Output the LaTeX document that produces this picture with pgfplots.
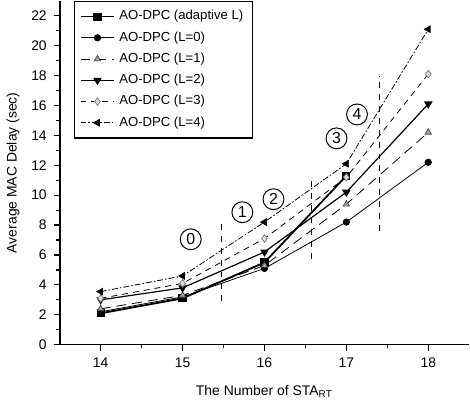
\documentclass[border=0pt]{standalone}
\usepackage{fontspec}
\setmainfont{Liberation Sans}
\usepackage{pgfplots}
\pgfplotsset{compat=1.18}
\begin{document}
\begin{tikzpicture}
\begin{axis}[
  scale only axis, width=206pt, height=173pt,
  xmin=13.5, xmax=18.5, ymin=0, ymax=23,
  axis x line=bottom, axis y line=left, axis line style={-, line width=0.8pt},
  xtick={14,15,16,17,18}, ytick={0,2,...,22}, minor tick num=1,
  tick align=outside, major tick length=3pt, minor tick length=1.8pt,
  tick style={black, line width=0.6pt},
  font=\fontsize{7}{8}\selectfont,
  /pgf/number format/assume math mode=true,
  xlabel={The Number of STA$_{\mathrm{RT}}$},
  ylabel={Average MAC Delay (sec)},
  xlabel style={yshift=-2pt},
  ylabel style={yshift=-1pt},
  legend style={at={(axis description cs:0.035,1.0)}, anchor=north west,
    draw=black, line width=0.6pt, font=\fontsize{6.6}{7.5}\selectfont,
    row sep=0.4pt, inner sep=2.5pt},
  legend cell align=left,
  every axis plot/.append style={black},
]
\addplot[line width=0.9pt, mark=square*, mark size=1.6pt]
  coordinates {(14,2.1) (15,3.1) (16,5.5) (17,11.3)};
\addlegendentry{AO-DPC (adaptive L)}
\addplot[line width=0.4pt, mark=*, mark size=1.6pt]
  coordinates {(14,2.2) (15,3.2) (16,5.1) (17,8.2) (18,12.2)};
\addlegendentry{AO-DPC (L=0)}
\addplot[line width=0.4pt, dash pattern=on 5pt off 3pt, mark=triangle*, mark size=1.8pt,
  mark options={solid, fill=gray!70, draw=black!70}]
  coordinates {(14,2.4) (15,3.3) (16,5.3) (17,9.4) (18,14.2)};
\addlegendentry{AO-DPC (L=1)}
\addplot[line width=0.6pt, mark=triangle*, mark size=1.9pt, mark options={rotate=180}]
  coordinates {(14,3.0) (15,3.8) (16,6.2) (17,10.2) (18,16.1)};
\addlegendentry{AO-DPC (L=2)}
\addplot[line width=0.4pt, dash pattern=on 3pt off 2.5pt, mark=diamond*, mark size=1.9pt,
  mark options={solid, fill=gray!25, draw=gray}]
  coordinates {(14,3.1) (15,4.1) (16,7.1) (17,11.2) (18,18.1)};
\addlegendentry{AO-DPC (L=3)}
\addplot[line width=0.4pt, dash pattern=on 3pt off 1pt on 0.8pt off 1pt, mark=triangle*, mark size=1.9pt,
  mark options={solid, rotate=90}]
  coordinates {(14,3.55) (15,4.6) (16,8.2) (17,12.1) (18,21.1)};
\addlegendentry{AO-DPC (L=4)}
% region boundaries
\addplot[forget plot, dashed, line width=0.6pt] coordinates {(15.48,2.9) (15.48,8.3)};
\addplot[forget plot, dashed, line width=0.6pt] coordinates {(16.57,5.75) (16.57,11.2)};
\addplot[forget plot, dashed, line width=0.6pt] coordinates {(17.4,7.6) (17.4,18.0)};
% circled labels
\begin{scope}[every node/.style={circle, draw, line width=0.5pt, inner sep=0pt,
    minimum size=10.5pt, font=\fontsize{8}{9}\selectfont}]
\node at (axis cs:15.1,7.05) {0};
\node at (axis cs:15.73,8.86) {1};
\node at (axis cs:16.11,9.73) {2};
\node at (axis cs:16.88,13.8) {3};
\node at (axis cs:17.13,15.4) {4};
\end{scope}
\end{axis}
\end{tikzpicture}
\end{document}
